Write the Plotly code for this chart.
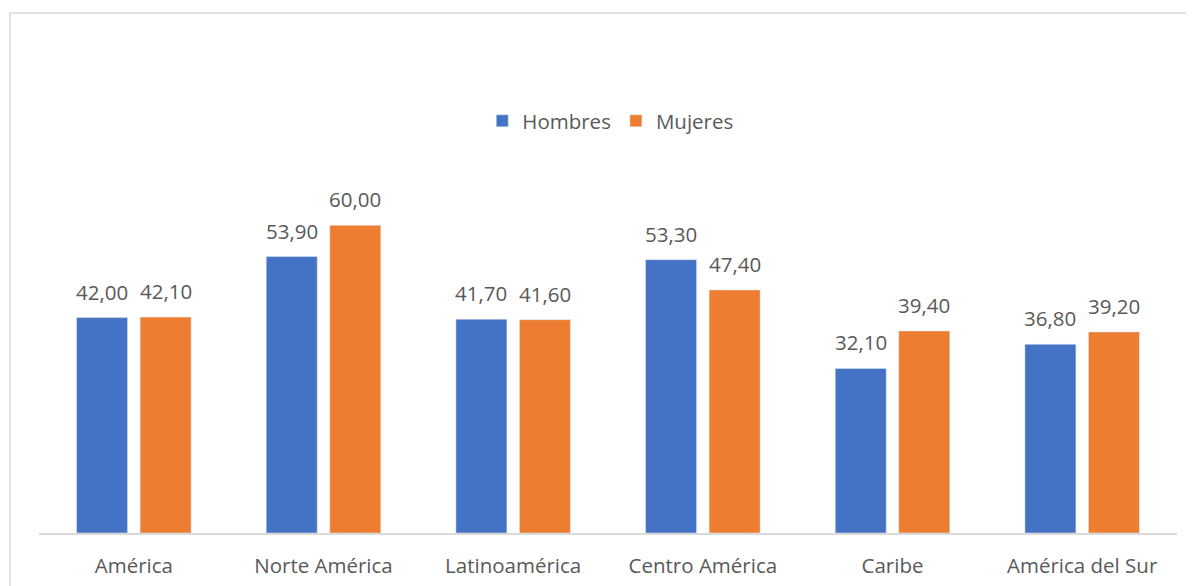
import plotly.graph_objects as go

categories = ["América", "Norte América", "Latinoamérica", "Centro América", "Caribe", "América del Sur"]
hombres = [42.00, 53.90, 41.70, 53.30, 32.10, 36.80]
mujeres = [42.10, 60.00, 41.60, 47.40, 39.40, 39.20]

BLUE = "#4472C4"
ORANGE = "#ED7D31"
FONT = "Open Sans"
TXT = "#595959"
FS = 20.5

def fmt(v):
    return f"{v:.2f}".replace(".", ",")

fig = go.Figure()
fig.add_trace(go.Bar(name="Hombres", x=categories, y=hombres, marker_color=BLUE))
fig.add_trace(go.Bar(name="Mujeres", x=categories, y=mujeres, marker_color=ORANGE))

# page has an 8px offset; figure coords = screen coords - 8
OFF = 8
L, R_, T, B = 39 - OFF, 1194 - (1177 - OFF), 100 - OFF, 586 - (533 - OFF)
H_PLOT = 586 - T - B
W_PLOT = 1194 - L - R_

for c, h, m in zip(categories, hombres, mujeres):
    for v, xs in ((h, -31.75), (m, 31.75)):
        fig.add_annotation(x=c, y=v, text=fmt(v), showarrow=False, xshift=xs,
                           yanchor="bottom", yshift=10,
                           font=dict(family=FONT, size=FS, color=TXT))

# outer chart border (light gray)
x0 = (10 - 39) / W_PLOT
y0 = (533 - 13) / H_PLOT
fig.add_shape(type="rect", xref="paper", yref="paper", x0=x0, x1=1.1, y0=-0.5, y1=y0,
              line=dict(color="#D9D9D9", width=1.5), fillcolor="rgba(0,0,0,0)", layer="below")

fig.update_layout(
    barmode="group",
    bargap=0.33,
    bargroupgap=0.197,
    width=1194, height=586,
    margin=dict(l=L, r=R_, t=T, b=B),
    paper_bgcolor="white", plot_bgcolor="white",
    font=dict(family=FONT, size=FS, color=TXT),
    showlegend=True,
    legend=dict(orientation="h", x=0.502, xanchor="center", y=(533 - 121) / H_PLOT, yanchor="middle",
                font=dict(family=FONT, size=FS, color=TXT), itemwidth=30, traceorder="normal"),
    xaxis=dict(showline=True, linecolor="#D9D9D9", linewidth=1.5, ticks="", showgrid=False,
               tickfont=dict(family=FONT, size=FS, color=TXT), ticklabelstandoff=14),
    yaxis=dict(range=[0, H_PLOT / 5.128], visible=False, showgrid=False, zeroline=False),
)

fig.write_html("out.html")
